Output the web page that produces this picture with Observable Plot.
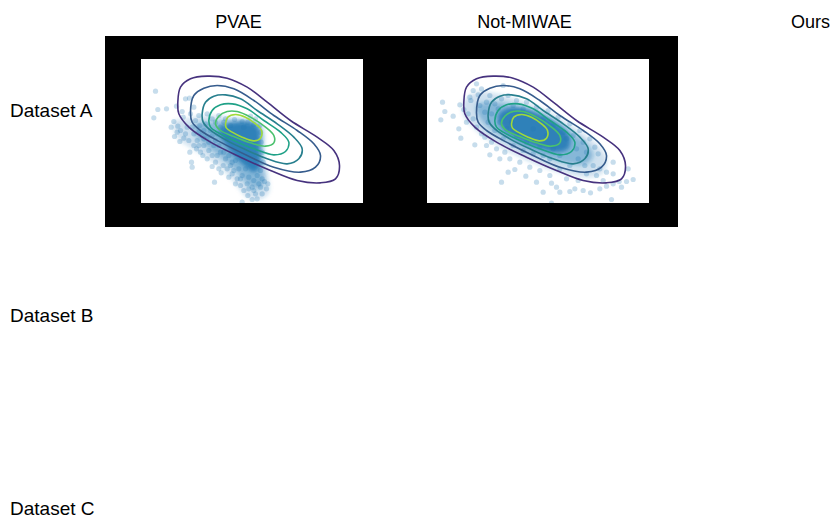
<!DOCTYPE html>
<html>
<head>
<meta charset="utf-8">
<script src="https://cdn.jsdelivr.net/npm/d3@7"></script>
<script src="https://cdn.jsdelivr.net/npm/@observablehq/plot@0.6"></script>
<style>
  html, body { margin: 0; padding: 0; background: #fff; }
  #page { position: relative; width: 834px; height: 522px; overflow: hidden; background: #fff;
          font-family: "Liberation Sans", Arial, Helvetica, sans-serif; color: #000; }
  .lbl { position: absolute; line-height: 18px; white-space: nowrap; }
  .ttl { width: 200px; text-align: center; font-size: 18px; }
  .row { font-size: 19px; }
  #blackbox { position: absolute; left: 105px; top: 36px; width: 573px; height: 191px; background: #000; }
  .panel { position: absolute; top: 59px; width: 222px; height: 144px; background: #fff; }
  .panel svg { display: block; overflow: hidden; }
</style>
</head>
<body>
<div id="page"></div>
<script>
// ---------- texts ----------
const columnTitles = ["PVAE", "Not-MIWAE", "Ours"];
const rowLabels = ["Dataset A", "Dataset B", "Dataset C"];

// ---------- ground-truth density contours (shared by both panels), levels 1..6 ----------
const contourLevels = [1, 2, 3, 4, 5, 6];
const contour1 = [[1.12,3.04],[1.20,3.49],[1.50,3.74],[2.00,3.82],[2.60,3.76],[3.20,3.49],[3.80,3.04],[4.50,2.49],[5.30,1.99],[5.80,1.59],[5.97,1.14],[5.85,0.74],[5.40,0.62],[4.70,0.69],[3.90,0.99],[3.00,1.39],[2.10,1.84],[1.45,2.29],[1.15,2.69]];
const contour2 = [[1.50,2.74],[1.60,3.24],[1.90,3.46],[2.30,3.54],[2.80,3.44],[3.40,3.09],[4.00,2.64],[4.70,2.19],[5.20,1.79],[5.40,1.44],[5.25,1.09],[4.80,0.94],[4.00,1.09],[3.20,1.44],[2.40,1.84],[1.80,2.19],[1.55,2.44]];
const contour3 = [[1.85,2.69],[1.95,3.04],[2.20,3.22],[2.55,3.26],[3.00,3.14],[3.50,2.79],[4.10,2.39],[4.60,1.99],[4.85,1.64],[4.75,1.34],[4.40,1.19],[3.80,1.34],[3.10,1.64],[2.50,1.94],[2.05,2.24],[1.88,2.44]];
const contour4 = [[2.05,2.49],[2.15,2.79],[2.40,2.96],[2.75,2.99],[3.20,2.84],[3.70,2.49],[4.20,2.14],[4.45,1.84],[4.35,1.56],[4.00,1.46],[3.40,1.64],[2.80,1.89],[2.30,2.14],[2.10,2.29]];
const contour5 = [[2.25,2.39],[2.35,2.62],[2.60,2.76],[2.90,2.76],[3.30,2.59],[3.75,2.29],[4.00,2.04],[4.00,1.82],[3.75,1.72],[3.30,1.82],[2.80,2.01],[2.40,2.19]];
const contour6 = [[2.55,2.39],[2.62,2.59],[2.85,2.67],[3.15,2.59],[3.45,2.39],[3.63,2.19],[3.60,1.96],[3.40,1.88],[3.05,1.99],[2.75,2.14],[2.58,2.26]];

// ---------- PVAE samples ----------
const pvaePoints = [[0.45,3.37],[0.52,2.82],[0.40,2.57],[0.78,2.84],[1.08,2.92],[1.35,3.14],[1.47,3.16],[1.00,2.46],[0.92,2.29],[1.12,2.32],[1.02,2.01],[1.18,1.86],[1.30,1.96],[1.48,1.54],[1.53,1.24],[1.55,1.09],[1.87,1.44],[2.22,0.64],[2.42,0.92],[2.15,1.11],[1.20,2.19],[1.40,2.29],[1.60,2.09],[1.70,1.89],[1.90,1.74],[2.00,1.99],[1.78,2.34],[1.65,2.49],[1.95,2.39],[2.10,2.19],[2.25,1.89],[2.40,1.54],[2.55,1.34],[2.60,1.04],[2.75,1.24],[2.90,0.74],[3.00,0.54],[3.10,0.39],[3.05,0.04],[3.22,0.24],[3.35,0.12],[3.50,0.14],[3.65,0.29],[3.78,0.44],[3.72,0.66],[3.82,0.59],[3.60,0.49],[3.40,0.39],[3.20,0.59],[2.80,0.99],[2.65,0.79],[2.48,1.14],[2.30,1.44],[2.05,1.59],[1.85,2.04],[1.68,1.64],[1.75,2.64],[2.00,2.69],[2.15,2.54],[1.50,2.69],[1.28,2.59],[1.60,2.89],[1.25,2.76],[2.35,2.64],[2.55,2.54],[2.82,2.52],[3.05,2.46],[3.22,2.44],[3.40,2.37],[3.45,2.54],[3.30,2.62],[1.10,2.14],[1.35,2.09],[1.45,1.89],[1.60,1.74],[1.80,1.54],[2.00,1.34],[2.15,1.44],[2.25,1.24],[2.35,1.04],[2.50,1.54],[2.65,1.44],[2.70,1.14],[2.85,1.29],[2.95,1.04],[3.05,0.84],[3.15,1.04],[3.25,0.79],[3.40,0.69],[3.50,0.84],[3.60,0.99],[3.65,0.74],[3.55,0.59],[3.35,0.49],[3.45,0.29],[3.25,0.44],[3.00,0.74],[2.85,0.59],[2.75,0.89],[1.90,2.19],[1.75,2.14],[1.55,2.29],[2.15,2.04],[2.30,2.09],[2.20,1.74],[2.35,1.74],[2.05,1.84],[1.90,1.94],[1.75,1.74],[2.50,2.44],[2.70,2.34],[2.25,2.44],[2.40,2.29],[2.62,1.96],[3.60,2.14],[3.62,1.84],[3.65,1.54],[3.68,1.24],[3.58,2.34],[3.10,2.29]];
const pvaeDensityOuter = [[1.00,2.44],[1.40,2.54],[2.00,2.64],[2.70,2.59],[3.40,2.49],[3.68,2.29],[3.72,1.44],[3.82,0.84],[3.85,0.34],[3.60,0.14],[3.20,0.19],[2.90,0.54],[2.50,0.99],[2.00,1.39],[1.50,1.69],[1.10,1.99]];
const pvaeDensityMid = [[1.60,2.34],[2.20,2.44],[2.90,2.49],[3.50,2.39],[3.62,2.14],[3.65,1.24],[3.72,0.64],[3.55,0.44],[3.20,0.59],[2.85,0.99],[2.40,1.39],[1.95,1.74],[1.65,2.04]];
const pvaeDensityCore = [[2.40,2.29],[2.90,2.44],[3.40,2.39],[3.55,2.24],[3.58,1.54],[3.58,1.09],[3.40,0.94],[3.10,1.14],[2.75,1.49],[2.50,1.84],[2.35,2.09]];

// ---------- Not-MIWAE samples ----------
const notMiwaePoints = [[0.48,3.04],[0.55,2.76],[0.43,2.51],[0.80,2.62],[0.97,2.24],[1.03,1.96],[1.00,2.96],[1.12,2.82],[1.33,3.09],[1.45,1.76],[1.80,1.74],[1.50,3.59],[1.40,3.39],[1.55,3.26],[1.30,3.19],[1.65,3.44],[1.25,2.69],[1.20,2.44],[1.40,2.54],[1.50,2.29],[1.65,2.09],[1.90,1.46],[2.20,1.34],[2.25,0.64],[2.45,0.94],[2.65,1.02],[2.98,0.82],[3.30,0.64],[3.50,0.34],[3.75,0.61],[3.90,0.49],[4.00,0.34],[4.30,0.36],[4.45,0.44],[4.70,0.39],[4.92,0.32],[5.20,0.44],[5.55,0.12],[5.78,0.66],[5.60,0.59],[5.40,0.52],[6.00,0.66],[6.20,0.72],[5.85,0.49],[6.05,1.04],[5.15,1.49],[5.40,0.94],[5.60,1.24],[5.00,1.14],[5.20,1.04],[4.80,0.89],[4.55,0.69],[4.20,0.74],[3.70,0.84],[3.40,0.99],[3.10,1.09],[2.80,1.24],[2.50,1.34],[2.35,1.54],[2.10,1.64],[1.95,1.84],[1.75,1.99],[2.05,2.99],[1.90,3.24],[2.30,3.54],[2.45,3.24],[2.70,3.09],[3.00,3.04],[3.30,2.89],[3.65,2.79],[3.95,2.59],[4.30,2.39],[4.60,2.19],[4.90,1.94],[5.05,1.69],[4.80,1.54],[4.55,1.34],[4.30,1.14],[4.00,1.04],[4.50,1.64],[4.70,1.84],[4.20,1.94],[4.40,2.04],[4.00,1.44],[3.70,1.34],[3.50,1.44],[3.20,1.49],[2.90,1.59],[2.60,1.74],[2.30,1.94],[2.05,2.19],[1.85,2.44],[1.75,2.74],[1.95,2.69],[2.15,2.84],[1.60,2.94],[1.80,3.04],[2.25,3.14],[2.60,2.94],[2.90,2.84],[3.50,2.54],[3.80,2.34],[4.10,2.14],[3.80,1.64],[3.40,1.69],[3.00,1.84],[2.70,2.04],[2.40,2.24],[2.20,2.44],[2.55,2.44],[3.20,2.24],[3.60,2.04],[4.75,1.14],[5.10,0.84],[5.30,0.69],[5.60,0.89],[3.75,0.01]];
const notMiwaeDensityOuter = [[1.10,3.04],[1.50,3.34],[2.10,3.29],[2.80,3.09],[3.60,2.79],[4.40,2.29],[5.10,1.79],[5.40,1.34],[5.30,0.94],[4.90,0.79],[4.20,0.89],[3.40,1.14],[2.60,1.49],[1.90,1.89],[1.35,2.34],[1.10,2.69]];
const notMiwaeDensityMid = [[1.50,2.94],[2.00,3.04],[2.70,2.94],[3.50,2.64],[4.20,2.24],[4.80,1.79],[5.00,1.44],[4.80,1.19],[4.30,1.19],[3.60,1.39],[2.80,1.69],[2.10,2.09],[1.65,2.49]];
const notMiwaeDensityCore = [[2.15,2.64],[2.40,2.84],[2.90,2.86],[3.50,2.64],[4.00,2.34],[4.30,1.99],[4.25,1.64],[3.90,1.54],[3.30,1.69],[2.70,1.94],[2.25,2.29]];

// ---------- tables ----------
const toXY = (a, layer = 0) => a.map(([x, y]) => ({x, y, layer}));
const contourRows = [contour1, contour2, contour3, contour4, contour5, contour6]
  .flatMap((c, i) => c.map(([x, y]) => ({x, y, level: contourLevels[i]})));
const SAMPLE_BLUE = "#1f77b4";

function panel(id, points, outer, mid, core) {
  const dens = (poly, op, layer) => Plot.line(toXY(poly, layer), {
    x: "x", y: "y", z: "layer", curve: "catmull-rom-closed", fill: SAMPLE_BLUE, fillOpacity: op,
    stroke: "none"
  });
  const svg = Plot.plot({
    width: 222, height: 144,
    marginTop: 0, marginRight: 0, marginBottom: 0, marginLeft: 0,
    x: {domain: [0.03, 6.69], axis: null},
    y: {domain: [0, 4.32], axis: null},
    color: {type: "linear", scheme: "viridis", domain: [0, 7]},
    style: {background: "white", overflow: "hidden"},
    marks: [
      dens(outer, 0.22, 1),
      dens(mid, 0.4, 2),
      dens(core, 0.85, 3),
      Plot.dot(toXY(points), {x: "x", y: "y", r: 2.6, fill: SAMPLE_BLUE, fillOpacity: 0.25}),
      Plot.line(contourRows, {x: "x", y: "y", z: "level", stroke: "level", strokeWidth: 1.6,
        curve: "catmull-rom-closed"})
    ]
  });
  // soften the density layers with a small gaussian blur
  const s = d3.select(svg);
  s.insert("defs", ":first-child").append("filter").attr("id", id)
    .attr("x", "-20%").attr("y", "-20%").attr("width", "140%").attr("height", "140%")
    .append("feGaussianBlur").attr("stdDeviation", 2);
  s.selectAll('g[aria-label="line"]')
    .filter(function() { return this.getAttribute("fill") === SAMPLE_BLUE; })
    .attr("filter", `url(#${id})`);
  return svg;
}

// ---------- layout ----------
const page = document.getElementById("page");
const titleCenters = [238.5, 524.5, 810.5];
columnTitles.forEach((t, i) => {
  const d = document.createElement("div");
  d.className = "lbl ttl";
  d.style.left = (titleCenters[i] - 100) + "px";
  d.style.top = "13px";
  d.textContent = t;
  page.appendChild(d);
});
const rowTops = [102, 306.5, 499.5];
rowLabels.forEach((t, i) => {
  const d = document.createElement("div");
  d.className = "lbl row";
  d.style.left = "10px";
  d.style.top = rowTops[i] + "px";
  d.textContent = t;
  page.appendChild(d);
});
const bb = document.createElement("div");
bb.id = "blackbox";
page.appendChild(bb);

const p1 = document.createElement("div");
p1.className = "panel"; p1.style.left = "141px";
p1.appendChild(panel("blurA", pvaePoints, pvaeDensityOuter, pvaeDensityMid, pvaeDensityCore));
page.appendChild(p1);

const p2 = document.createElement("div");
p2.className = "panel"; p2.style.left = "427px";
p2.appendChild(panel("blurB", notMiwaePoints, notMiwaeDensityOuter, notMiwaeDensityMid, notMiwaeDensityCore));
page.appendChild(p2);
</script>
</body>
</html>
